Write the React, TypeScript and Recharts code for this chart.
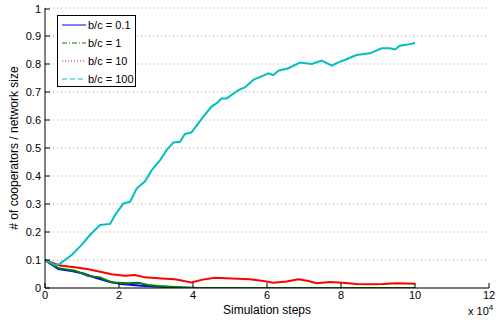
import React from "react";
import {
  LineChart,
  Line,
  XAxis,
  YAxis,
  CartesianGrid,
} from "recharts";

// steps are in units of 10^4
const stepsLow = [0, 0.36, 0.72, 1.04, 1.35, 1.71, 2.07, 2.61, 2.97, 3.6, 4.2, 10];
const coopLow = [0.1, 0.068, 0.061, 0.052, 0.037, 0.023, 0.014, 0.008, 0.005, 0.002, 0, 0];

const stepsOne = [0, 0.36, 0.81, 1.17, 1.49, 1.8, 2.25, 2.52, 2.79, 3.05, 3.5, 4.0, 10];
const coopOne = [0.1, 0.071, 0.062, 0.043, 0.038, 0.02, 0.017, 0.019, 0.011, 0.007, 0.004, 0, 0];

const stepsTen = [
  0, 0.4, 0.81, 1.17, 1.49, 1.8, 2.16, 2.43, 2.7, 3.15, 3.51, 3.96, 4.23, 4.59, 5.05,
  5.54, 5.9, 6.17, 6.53, 6.85, 7.12, 7.34, 7.7, 8.06, 8.42, 8.78, 9.14, 9.5, 10.0,
];
const coopTen = [
  0.1, 0.08, 0.074, 0.067, 0.058, 0.049, 0.044, 0.046, 0.038, 0.034, 0.031, 0.02, 0.029,
  0.037, 0.034, 0.031, 0.025, 0.019, 0.023, 0.031, 0.025, 0.017, 0.021, 0.019, 0.014,
  0.013, 0.014, 0.017, 0.015,
];

const stepsHundred = [
  0, 0.27, 0.4, 0.72, 0.99, 1.22, 1.49, 1.76, 1.89, 2.12, 2.3, 2.48, 2.7, 2.88, 3.11,
  3.29, 3.47, 3.65, 3.78, 3.96, 4.28, 4.5, 4.64, 4.77, 4.91, 5.23, 5.41, 5.63, 6.04,
  6.17, 6.31, 6.58, 6.89, 7.21, 7.48, 7.75, 7.93, 8.15, 8.42, 8.78, 9.1, 9.32, 9.46,
  9.59, 9.86, 10.0,
];
const coopHundred = [
  0.1, 0.082, 0.086, 0.118, 0.154, 0.19, 0.225, 0.229, 0.26, 0.302, 0.308, 0.356, 0.38,
  0.42, 0.457, 0.493, 0.52, 0.522, 0.55, 0.556, 0.612, 0.648, 0.66, 0.677, 0.677, 0.707,
  0.717, 0.743, 0.767, 0.76, 0.776, 0.785, 0.805, 0.8, 0.812, 0.794, 0.806, 0.817, 0.832,
  0.838, 0.856, 0.856, 0.852, 0.865, 0.871, 0.875,
];

const xTicks = [0, 2, 4, 6, 8, 10, 12];
const yTicks = [0, 0.1, 0.2, 0.3, 0.4, 0.5, 0.6, 0.7, 0.8, 0.9, 1];

const toRows = (xs: number[], ys: number[]) => xs.map((s, i) => ({ step: s, value: ys[i] }));

const series = [
  { name: "b/c = 0.1", color: "#0000ff", dash: "", data: toRows(stepsLow, coopLow) },
  { name: "b/c = 1", color: "#007f00", dash: "5 2 1 2", data: toRows(stepsOne, coopOne) },
  { name: "b/c = 10", color: "#ff0000", dash: "1 2", data: toRows(stepsTen, coopTen) },
  { name: "b/c = 100", color: "#00bfbf", dash: "5 3", data: toRows(stepsHundred, coopHundred) },
];

const FONT = "'Liberation Sans', Arial, Helvetica, sans-serif";

const BottomTick = (props: any) => {
  const { x, y, payload } = props;
  return (
    <g>
      <line x1={x} x2={x} y1={y} y2={y - 5} stroke="#000" />
      <text x={x} y={y + 11} textAnchor="middle" fontSize={11} fontFamily={FONT} fill="#000">
        {payload.value}
      </text>
    </g>
  );
};

const LeftTick = (props: any) => {
  const { x, y, payload } = props;
  return (
    <g>
      <line x1={x} x2={x + 5} y1={y} y2={y} stroke="#000" />
      <text x={x - 4} y={y + 4} textAnchor="end" fontSize={11} fontFamily={FONT} fill="#000">
        {String(payload.value)}
      </text>
    </g>
  );
};

const TopTick = (props: any) => {
  const { x, y } = props;
  return <line x1={x} x2={x} y1={y} y2={y + 5} stroke="#000" />;
};

const RightTick = (props: any) => {
  const { x, y } = props;
  return <line x1={x} x2={x - 5} y1={y} y2={y} stroke="#000" />;
};

const LegendBox = () => (
  <div
    style={{
      position: "absolute",
      left: 57,
      top: 15,
      width: 77,
      height: 70,
      border: "1.5px solid #000",
      background: "#fff",
    }}
  >
    <svg width={77} height={70} style={{ display: "block" }}>
      {series.map((s, i) => (
        <g key={s.name}>
          <line
            x1={4}
            x2={28}
            y1={9 + i * 18}
            y2={9 + i * 18}
            stroke={s.color}
            strokeWidth={1}
            strokeDasharray={s.dash || undefined}
          />
          <text x={30} y={13 + i * 18} fontSize={11} fontFamily={FONT} fill="#000">
            {s.name}
          </text>
        </g>
      ))}
    </svg>
  </div>
);

export default function App() {
  return (
    <div style={{ width: 498, height: 320, position: "relative", background: "#fff" }}>
      <style>{"body{margin:0}"}</style>
      <LineChart
        width={498}
        height={320}
        margin={{ top: 8, right: 9, bottom: 0, left: 0 }}
      >
        <CartesianGrid
          vertical={false}
          stroke="#a0a0a0"
          strokeDasharray="1 3"
        />
        <XAxis
          dataKey="step"
          type="number"
          domain={[0, 12]}
          ticks={xTicks}
          allowDataOverflow
          height={32}
          tickSize={0}
          tickMargin={0}
          tick={<BottomTick />}
          axisLine={{ stroke: "#000" }}
          tickLine={false}
          label={{
            value: "Simulation steps",
            position: "insideBottom",
            offset: 6,
            style: { fontSize: 12, fontFamily: FONT, fill: "#000" },
          }}
        />
        <XAxis
          xAxisId="top"
          orientation="top"
          type="number"
          domain={[0, 12]}
          ticks={xTicks}
          allowDataOverflow
          height={0}
          tickSize={0}
          tickMargin={0}
          tick={<TopTick />}
          axisLine={{ stroke: "#000" }}
          tickLine={false}
        />
        <YAxis
          type="number"
          domain={[0, 1]}
          ticks={yTicks}
          allowDataOverflow
          width={45}
          tickSize={0}
          tickMargin={0}
          tick={<LeftTick />}
          axisLine={{ stroke: "#000" }}
          tickLine={false}
          label={{
            value: "# of cooperators / network size",
            angle: -90,
            position: "insideLeft",
            offset: 14,
            style: { fontSize: 12, fontFamily: FONT, fill: "#000", textAnchor: "middle" },
          }}
        />
        <YAxis
          yAxisId="right"
          orientation="right"
          type="number"
          domain={[0, 1]}
          ticks={yTicks}
          allowDataOverflow
          width={0}
          tickSize={0}
          tickMargin={0}
          tick={<RightTick />}
          axisLine={{ stroke: "#000" }}
          tickLine={false}
        />
        {series.map((s) => (
          <Line
            key={s.name}
            data={s.data}
            dataKey="value"
            name={s.name}
            type="linear"
            stroke={s.color}
            strokeWidth={2}
            dot={false}
            isAnimationActive={false}
          />
        ))}
      </LineChart>
      <LegendBox />
      <div
        style={{
          position: "absolute",
          left: 468,
          top: 305,
          fontFamily: FONT,
          fontSize: 11,
          lineHeight: "12px",
          color: "#000",
        }}
      >
        x 10<sup style={{ fontSize: 8, verticalAlign: "super", lineHeight: 0 }}>4</sup>
      </div>
    </div>
  );
}
